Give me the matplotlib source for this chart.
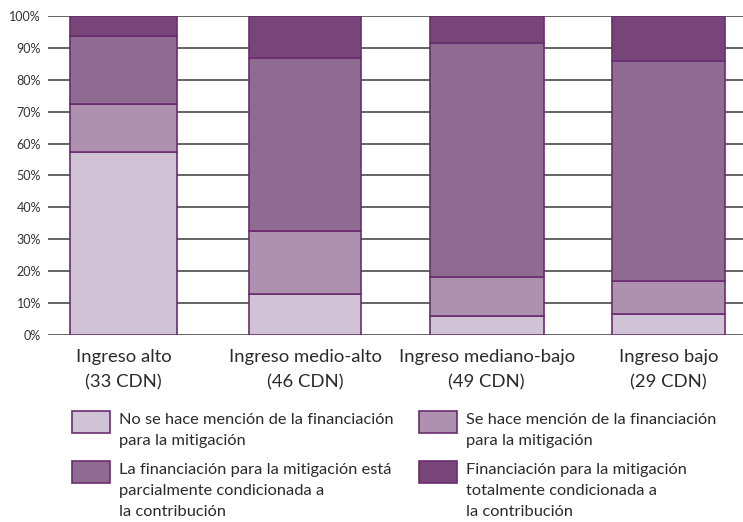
import matplotlib
matplotlib.use("Agg")
import matplotlib.pyplot as plt
from matplotlib.patches import Rectangle
import numpy as np

plt.rcParams["font.family"] = ["Lato", "DejaVu Sans"]

CATEGORIES = ["Ingreso alto\n(33 CDN)", "Ingreso medio-alto\n(46 CDN)",
              "Ingreso mediano-bajo\n(49 CDN)", "Ingreso bajo\n(29 CDN)"]

# percentage shares, bottom to top
NO_MENTION = [57.3, 12.9, 6.1, 6.7]
MENTION = [15.2, 19.6, 12.1, 10.3]
PARTIAL = [21.2, 54.2, 73.4, 69.0]
TOTAL = [6.3, 13.3, 8.4, 14.0]

SERIES_LABELS = [
    "No se hace mención de la financiación\npara la mitigación",
    "Se hace mención de la financiación\npara la mitigación",
    "La financiación para la mitigación está\nparcialmente condicionada a\nla contribución",
    "Financiación para la mitigación\ntotalmente condicionada a\nla contribución",
]
COLORS = ["#d1c3d6", "#ae91ae", "#8f6a91", "#784579"]
EDGE = "#6a2d70"

fig = plt.figure(figsize=(7.43, 5.22), dpi=100)
ax = fig.add_axes([48 / 743, 187 / 522, 695 / 743, 319 / 522])

x = np.arange(len(CATEGORIES))
widths = [0.585, 0.62, 0.625, 0.625]
bottom = np.zeros(len(CATEGORIES))
for vals, col in zip([NO_MENTION, MENTION, PARTIAL, TOTAL], COLORS):
    ax.bar(x, vals, width=widths, bottom=bottom, color=col, edgecolor=EDGE,
           linewidth=1.2, zorder=3)
    bottom += np.array(vals)

ax.set_ylim(0, 100)
ax.set_xlim(-0.415, 3.41)
ax.set_yticks(range(0, 101, 10))
ax.set_yticklabels([f"{v}%" for v in range(0, 101, 10)], fontsize=9,
                   color="#333333")
ax.yaxis.grid(True, color="#3a3a3a", linewidth=1.1, zorder=0)
ax.set_axisbelow(True)
ax.tick_params(axis="y", length=0, pad=5)
ax.tick_params(axis="x", length=0, pad=10)
ax.set_xticks(x)
ax.set_xticklabels(CATEGORIES, fontsize=13.3, color="#2a2a2a",
                   linespacing=1.75)
for s in ax.spines.values():
    s.set_visible(False)

# legend, drawn by hand in two columns
box_x = [72, 419]
box_y = [411, 461]
for i, (lab, col) in enumerate(zip(SERIES_LABELS, COLORS)):
    bx = box_x[i % 2]
    by = box_y[i // 2]
    fig.add_artist(Rectangle((bx / 743, 1 - (by + 22) / 522), 38 / 743,
                             22 / 522, transform=fig.transFigure,
                             facecolor=col, edgecolor=EDGE, linewidth=1.2))
    fig.text((bx + 47) / 743, 1 - (by + 2) / 522, lab, fontsize=11.8,
             va="top", ha="left", color="#2a2a2a", linespacing=1.65)

fig.savefig("out.png", dpi=100)
